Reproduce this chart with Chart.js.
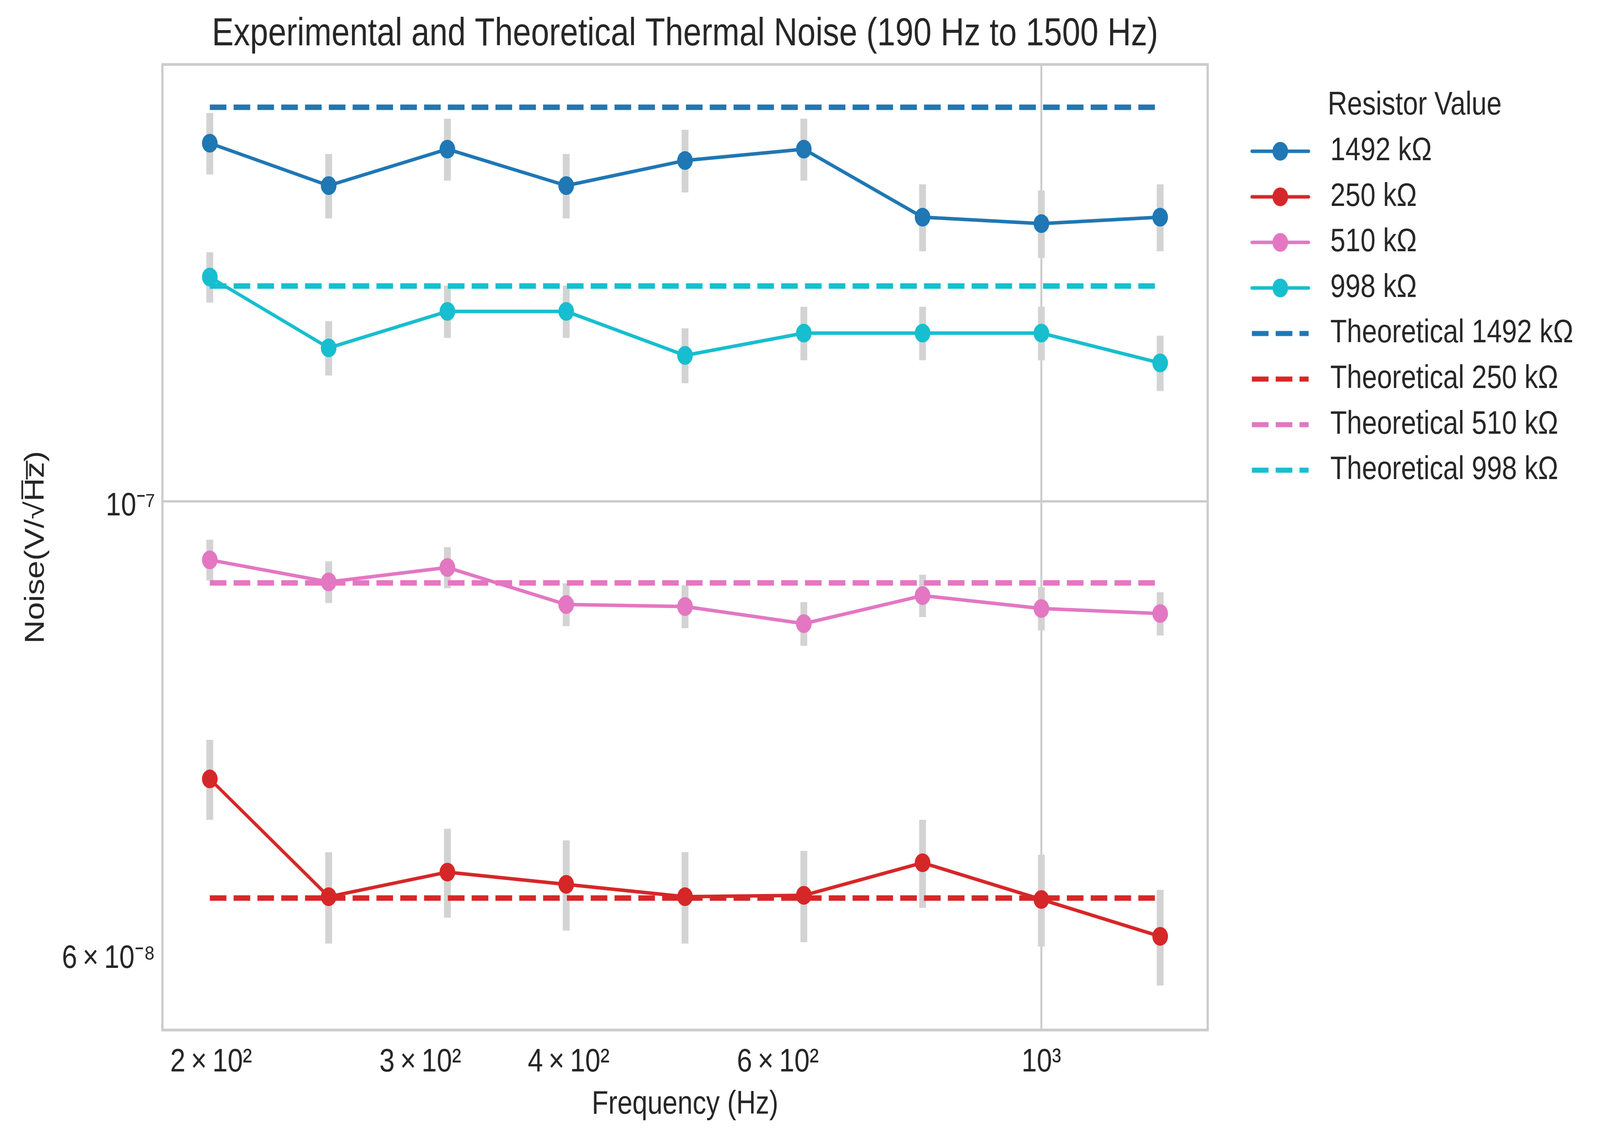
<!DOCTYPE html>
<html>
<head>
<meta charset="utf-8">
<title>Thermal Noise</title>
<script src="https://cdn.jsdelivr.net/npm/chart.js"></script>
<style>
  html, body { margin: 0; padding: 0; background: #ffffff; overflow: hidden; }
  canvas { display: block; transform-origin: 0 0; }
</style>
</head>
<body>
<canvas id="noiseChart" width="4906" height="2920"></canvas>
<script>
const freqs = [199.5, 251.2, 316.2, 398.1, 501.2, 631.0, 794.3, 1000, 1258.9];

const noise1492 = [1.498e-7, 1.428e-7, 1.488e-7, 1.428e-7, 1.469e-7, 1.488e-7, 1.378e-7, 1.368e-7, 1.378e-7];
const noise250 = [7.31e-8, 6.40e-8, 6.58e-8, 6.49e-8, 6.40e-8, 6.41e-8, 6.65e-8, 6.38e-8, 6.12e-8];
const noise510 = [9.36e-8, 9.13e-8, 9.28e-8, 8.90e-8, 8.88e-8, 8.71e-8, 8.99e-8, 8.86e-8, 8.81e-8];
const noise998 = [1.288e-7, 1.189e-7, 1.239e-7, 1.239e-7, 1.179e-7, 1.209e-7, 1.209e-7, 1.209e-7, 1.169e-7];

const err1492 = [5.2e-9, 5.2e-9, 5.2e-9, 5.2e-9, 5.2e-9, 5.2e-9, 5.2e-9, 5.2e-9, 5.2e-9];
const err250 = [3.3e-9, 3.3e-9, 3.3e-9, 3.3e-9, 3.3e-9, 3.3e-9, 3.3e-9, 3.3e-9, 3.3e-9];
const err510 = [2.15e-9, 2.15e-9, 2.15e-9, 2.15e-9, 2.15e-9, 2.15e-9, 2.15e-9, 2.15e-9, 2.15e-9];
const err998 = [3.65e-9, 3.65e-9, 3.65e-9, 3.65e-9, 3.65e-9, 3.65e-9, 3.65e-9, 3.65e-9, 3.65e-9];

const resistorLabels = ['1492 kΩ', '250 kΩ', '510 kΩ', '998 kΩ'];
const theoryValues = [1.560e-7, 6.39e-8, 9.12e-8, 1.275e-7];
const seriesColors = ['#1f77b4', '#d62728', '#e377c2', '#17becf'];

const xTickValues = [200, 300, 400, 600, 1000];
const xTickLabels = ['2\u2009×\u200910²', '3\u2009×\u200910²', '4\u2009×\u200910²', '6\u2009×\u200910²', '10³'];
const yTickValues = [6e-8, 1e-7];
const yTickLabels = ['6\u2009×\u200910⁻⁸', '10⁻⁷'];
const xGridValue = 1000;
const yGridValue = 1e-7;

const measured = [noise1492, noise250, noise510, noise998];
const errors = [err1492, err250, err510, err998];

const textColor = '#262626';
Chart.defaults.font.family = '"Liberation Sans", Arial, sans-serif';
Chart.defaults.color = textColor;

// the chart is laid out at 4906 x 2920; squeeze it into whatever viewport we get
const canvas = document.getElementById('noiseChart');
canvas.style.transform = 'scale(' + (window.innerWidth / 4906) + ',' + (window.innerHeight / 2920) + ')';

// little legend picture: line (+ marker) or dashed line
function swatch(color, dashed) {
  const c = document.createElement('canvas');
  c.width = 301;
  c.height = 60;
  const g = c.getContext('2d');
  g.strokeStyle = color;
  g.lineWidth = dashed ? 13 : 9;
  g.lineCap = dashed ? 'butt' : 'round';
  if (dashed) g.setLineDash([51, 22]);
  g.beginPath();
  g.moveTo(102, 30);
  g.lineTo(276, 30);
  g.stroke();
  if (!dashed) {
    g.fillStyle = color;
    g.beginPath();
    g.arc(189, 30, 24, 0, Math.PI * 2);
    g.fill();
  }
  return c;
}

const datasets = [];

resistorLabels.forEach((name, i) => {
  datasets.push({
    label: name,
    legendKind: 'solid',
    data: freqs.map((f, j) => ({ x: f, y: measured[i][j] })),
    borderColor: seriesColors[i],
    backgroundColor: seriesColors[i],
    borderWidth: 9,
    pointRadius: 24,
    pointHoverRadius: 24,
    pointBorderWidth: 0,
    borderJoinStyle: 'round',
    order: 2
  });
});

resistorLabels.forEach((name, i) => {
  datasets.push({
    label: 'Theoretical ' + name,
    legendKind: 'dash',
    data: [{ x: freqs[0], y: theoryValues[i] }, { x: freqs[freqs.length - 1], y: theoryValues[i] }],
    borderColor: seriesColors[i],
    backgroundColor: seriesColors[i],
    borderWidth: 14,
    borderDash: [51, 22],
    borderCapStyle: 'butt',
    pointRadius: 0,
    pointHoverRadius: 0,
    order: 1
  });
});

// error bars as broken line segments, drawn underneath
resistorLabels.forEach((name, i) => {
  const pts = [];
  freqs.forEach((f, j) => {
    pts.push({ x: f, y: measured[i][j] - errors[i][j] });
    pts.push({ x: f, y: measured[i][j] + errors[i][j] });
    pts.push({ x: f, y: null });
  });
  datasets.push({
    label: 'err ' + name,
    data: pts,
    borderColor: '#d3d3d3',
    borderWidth: 21,
    borderCapStyle: 'butt',
    pointRadius: 0,
    pointHoverRadius: 0,
    spanGaps: false,
    order: 3
  });
});

const framePlugin = {
  id: 'frame',
  beforeDatasetsDraw(chart) {
    const { ctx, chartArea: a } = chart;
    ctx.save();
    ctx.strokeStyle = '#cccccc';
    ctx.lineWidth = 7;
    ctx.strokeRect(a.left, a.top, a.right - a.left, a.bottom - a.top);
    ctx.restore();
  }
};

new Chart(canvas.getContext('2d'), {
  type: 'line',
  data: { datasets: datasets },
  plugins: [framePlugin],
  options: {
    responsive: false,
    animation: false,
    devicePixelRatio: 1,
    events: [],
    layout: { padding: { left: 0, top: 0, right: 72, bottom: 0 } },
    scales: {
      x: {
        type: 'logarithmic',
        min: 182.0,
        max: 1380.4,
        afterFit: s => { s.height = 284; },
        afterBuildTicks: s => { s.ticks = xTickValues.map(v => ({ value: v })); },
        ticks: {
          callback: (v, i) => xTickLabels[i],
          autoSkip: false,
          maxRotation: 0,
          padding: 32,
          color: textColor,
          font: { size: 84 }
        },
        grid: {
          color: c => (c.tick && Math.abs(c.tick.value - xGridValue) < 1e-6 ? '#cccccc' : 'rgba(0,0,0,0)'),
          lineWidth: 6,
          drawTicks: false
        },
        border: { display: false },
        title: {
          display: true,
          text: 'Frequency (Hz)',
          color: textColor,
          font: { size: 83, lineHeight: 1 },
          padding: { top: 0, bottom: 51 }
        }
      },
      y: {
        type: 'logarithmic',
        min: 5.506e-8,
        max: 1.6372e-7,
        afterFit: s => { s.width = 498; },
        afterBuildTicks: s => { s.ticks = yTickValues.map(v => ({ value: v })); },
        ticks: {
          callback: (v, i) => yTickLabels[i],
          autoSkip: false,
          padding: 22,
          labelOffset: 13,
          color: textColor,
          font: { size: 84 }
        },
        grid: {
          color: c => (c.tick && Math.abs(c.tick.value - yGridValue) < 1e-12 ? '#cccccc' : 'rgba(0,0,0,0)'),
          lineWidth: 6,
          drawTicks: false
        },
        border: { display: false },
        title: {
          display: true,
          text: 'Noise(V/√H\u0305z\u0305)',
          color: textColor,
          font: { size: 83, lineHeight: 1 },
          padding: { top: 70, bottom: 0 }
        }
      }
    },
    plugins: {
      tooltip: { enabled: false },
      title: {
        display: true,
        fullSize: false,
        text: 'Experimental and Theoretical Thermal Noise (190 Hz to 1500 Hz)',
        color: textColor,
        font: { size: 100, weight: 'normal', lineHeight: 1.2 },
        padding: { top: 28, bottom: 17 }
      },
      legend: {
        position: 'right',
        align: 'start',
        fullSize: false,
        title: {
          display: true,
          text: '      Resistor Value',
          color: textColor,
          font: { size: 83, lineHeight: 1 },
          padding: { top: 64, bottom: 0 }
        },
        labels: {
          usePointStyle: true,
          pointStyleWidth: 301,
          padding: 33.6,
          color: textColor,
          font: { size: 83 },
          generateLabels: chart => chart.data.datasets
            .map((ds, i) => ({ ds, i }))
            .filter(o => o.ds.legendKind)
            .map(o => ({
              text: o.ds.label,
              fillStyle: o.ds.borderColor,
              strokeStyle: o.ds.borderColor,
              lineWidth: 0,
              pointStyle: swatch(o.ds.borderColor, o.ds.legendKind === 'dash'),
              hidden: false,
              datasetIndex: o.i,
              fontColor: textColor
            }))
        }
      }
    }
  }
});
</script>
</body>
</html>
